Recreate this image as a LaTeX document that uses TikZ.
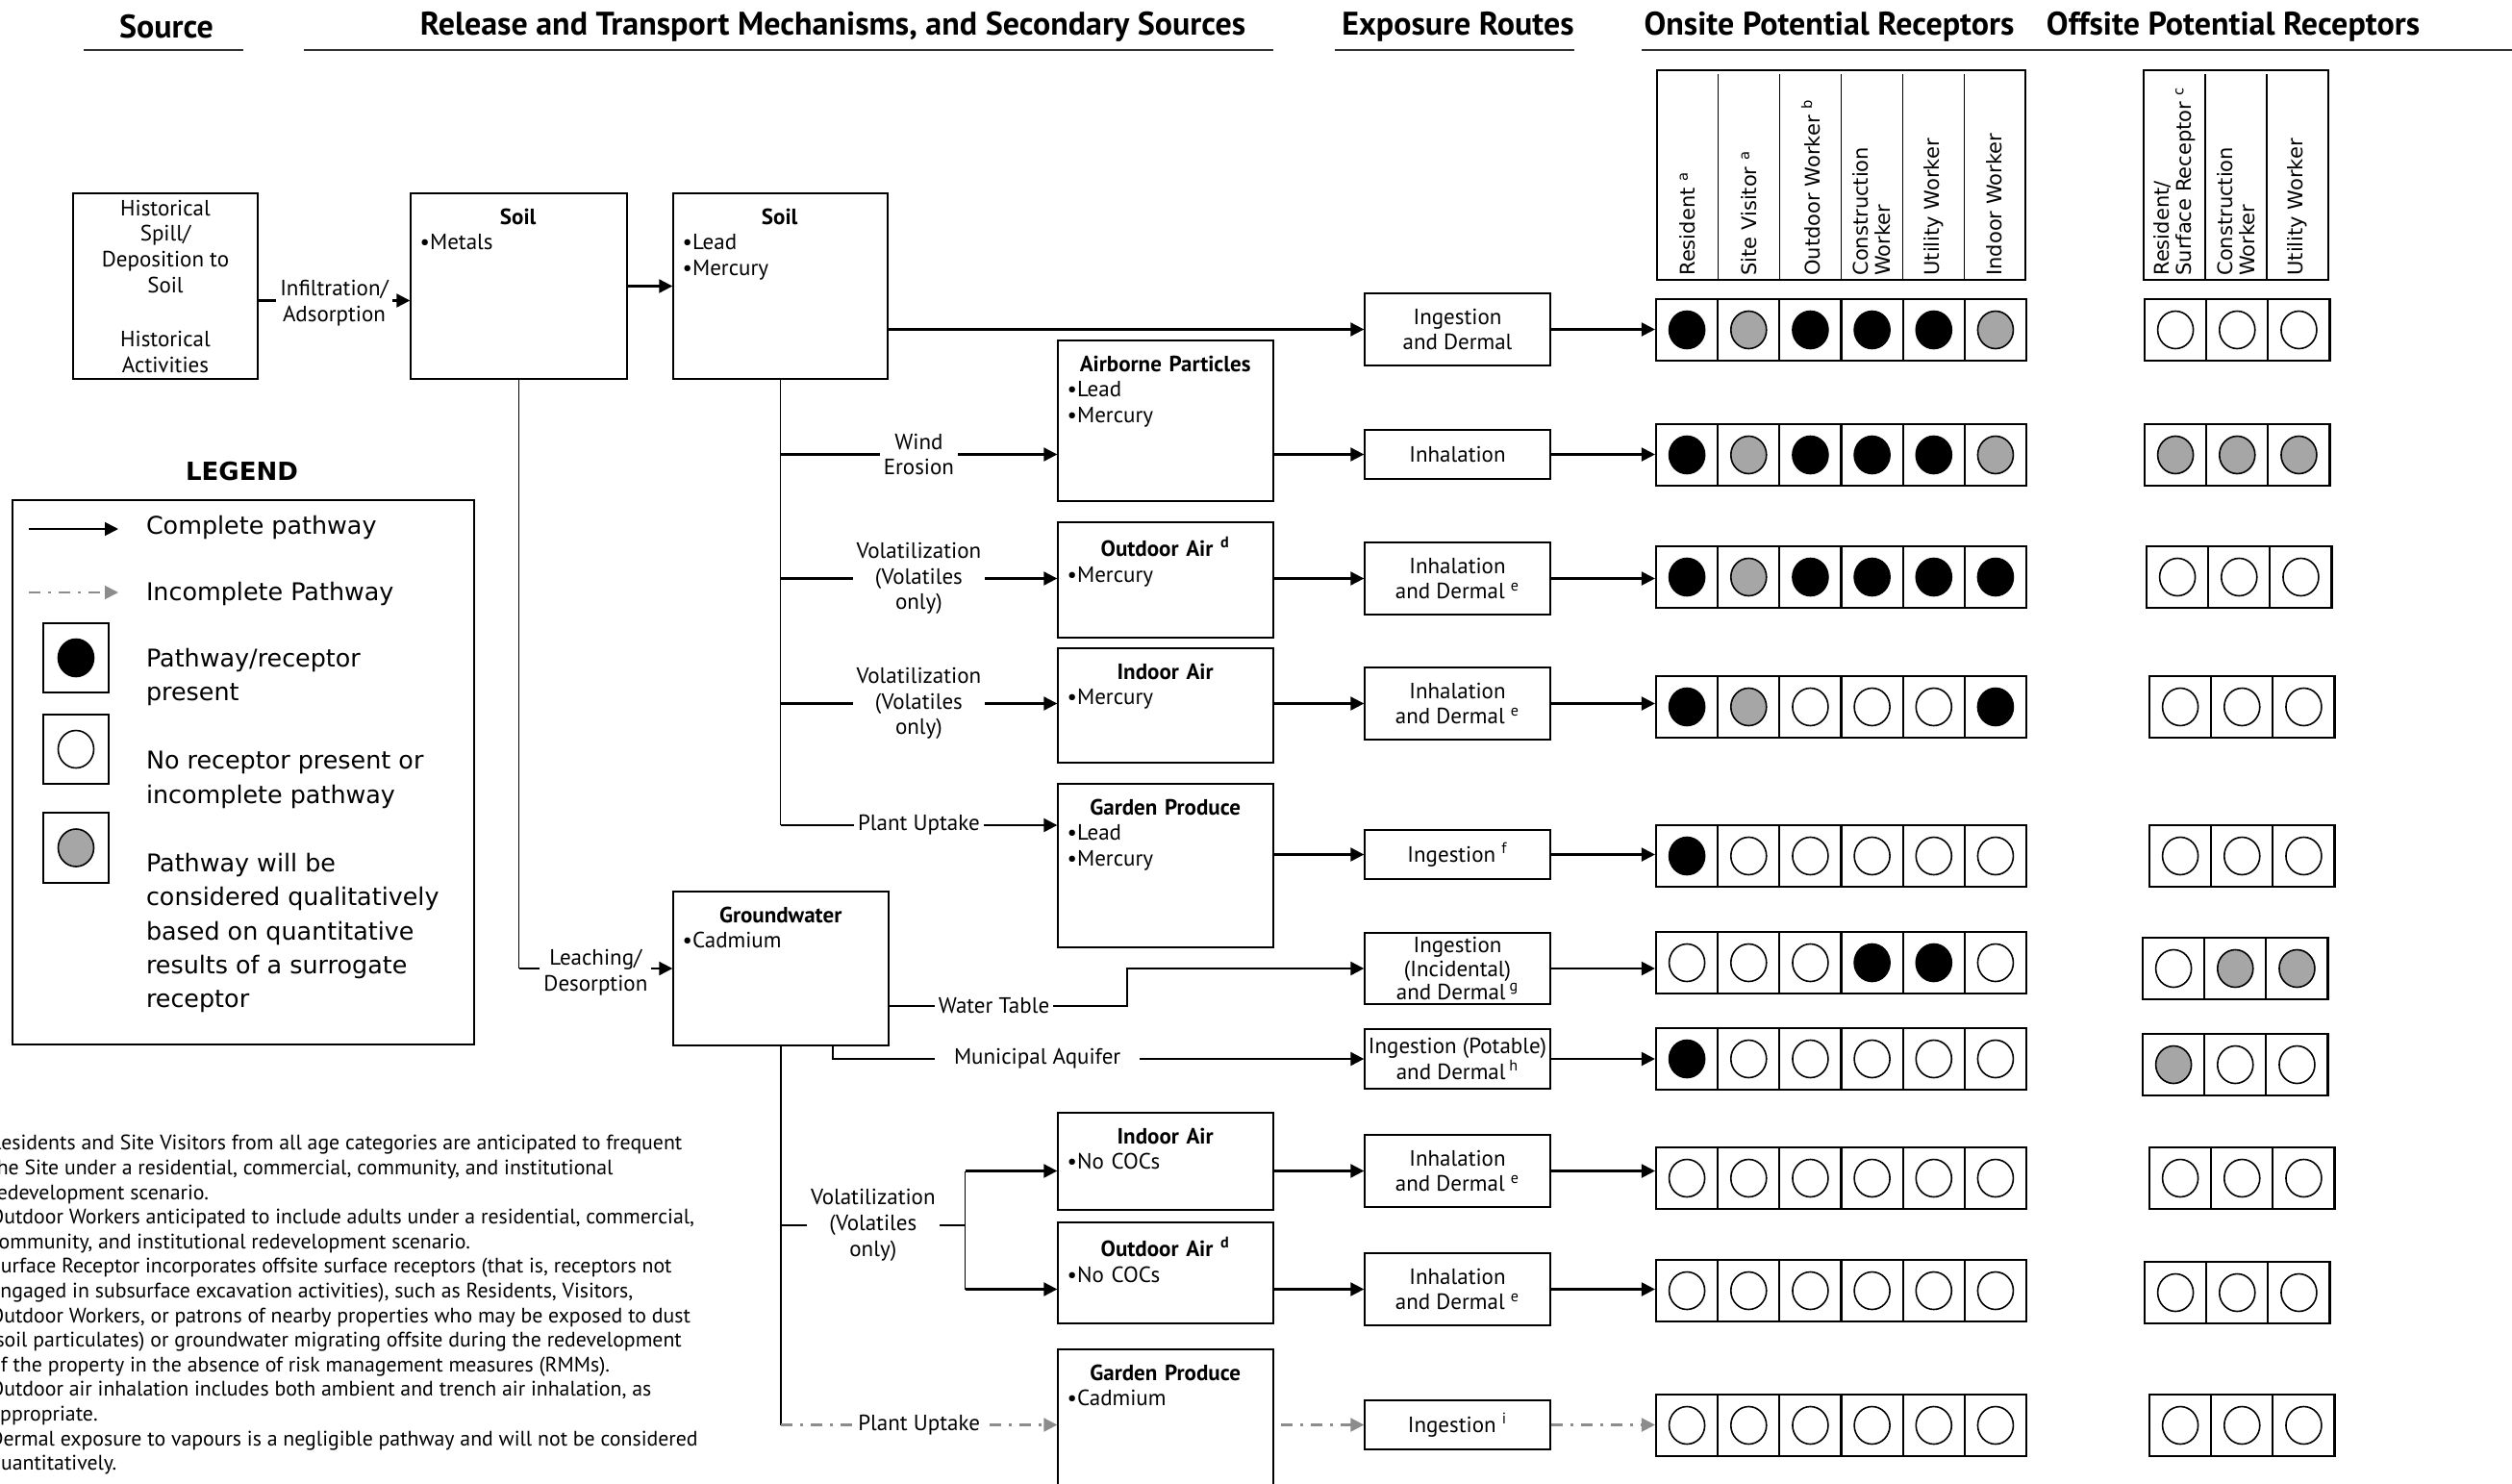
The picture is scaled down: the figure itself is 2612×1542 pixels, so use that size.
\documentclass[tikz,border=0pt]{standalone}
\usepackage{fontspec}
\setmainfont{PT Sans}
\newfontfamily\legendfont{DejaVu Sans}
\usetikzlibrary{arrows.meta,positioning,fit,calc,shapes.geometric}

\definecolor{qualgrey}{HTML}{A6A6A6}
\definecolor{incgrey}{HTML}{8C8C8C}

\newcommand{\boxfont}{\fontsize{11.5}{13.4}\selectfont}
\newcommand{\legfont}{\legendfont\fontsize{12.7}{17.7}\selectfont}
\newcommand{\boxhead}[1]{{\centering\bfseries #1\par}}

\tikzset{
	medium/.style={draw, line width=0.7pt, inner sep=0pt},
	exptext/.style={inner sep=0pt, align=center, font=\boxfont},
	inbox/.style={inner sep=0pt, align=left, anchor=north west, font=\boxfont},
	heading/.style={inner sep=0pt, font=\fontsize{17}{19}\selectfont\bfseries},
	rule/.style={line width=0.8pt, black!80},
	pathway/.style={-{Triangle[length=7pt,width=7pt]}, line width=1.1pt},
	incpath/.style={-{Triangle[length=7pt,width=7pt]}, line width=1.1pt, incgrey, dash pattern=on 6pt off 4pt on 1.5pt off 4pt},
	trunk/.style={line width=0.8pt},
	lbl/.style={fill=white, inner sep=2pt, align=center, font=\boxfont},
	cellrow/.style={draw, line width=1.1pt, inner sep=0pt},
	dot/.style={ellipse, draw, line width=0.8pt, minimum width=18.5pt, minimum height=19.5pt, inner sep=0pt},
	present/.style={fill=black},
	absent/.style={fill=white},
	qual/.style={fill=qualgrey},
	rothead/.style={rotate=90, anchor=west, align=left, inner sep=0pt, font=\legendfont\fontsize{10.5}{11.5}\selectfont},
	legtext/.style={anchor=west, align=left, inner sep=0pt, font=\legfont}
}

% one row of receptor cells: name, y, onsite dots, offsite left x, offsite y, offsite dots
\newcommand{\recrow}[6]{%
	\node[cellrow, fit={(1722,#2-32) (2107,#2+32)}] (#1on) {};
	\foreach \i in {1,...,5} \draw[line width=1.1pt] (1722+\i*64.17,#2-32) -- (1722+\i*64.17,#2+32);
	\foreach \s [count=\i] in {#3} \node[dot,\s] (#1on\i) at (1722+\i*64.17-32.08,#2) {};
	\node[cellrow, fit={(#4,#5-32) (#4+192.5,#5+32)}] (#1off) {};
	\foreach \i in {1,2} \draw[line width=1.1pt] (#4+\i*64.17,#5-32) -- (#4+\i*64.17,#5+32);
	\foreach \s [count=\i] in {#6} \node[dot,\s] (#1off\i) at (#4+\i*64.17-32.08,#5) {};
}

\begin{document}
\begin{tikzpicture}[x=0.5pt, y=-0.5pt]
	\useasboundingbox (0,0) rectangle (2612,1542);
	\clip (0,0) rectangle (2612,1542);

	%%%% column headings
	\node[heading] (hsrc) at (173,28) {Source};
	\node[heading] (hrel) at (866,28) {Release and Transport Mechanisms, and Secondary Sources};
	\node[heading] (hexp) at (1516,28) {Exposure Routes};
	\node[heading] (hon) at (1902,28) {Onsite Potential Receptors};
	\node[heading] (hoff) at (2322,28) {Offsite Potential Receptors};
	\draw[rule] (87,52) -- (253,52);
	\draw[rule] (316,52) -- (1324,52);
	\draw[rule] (1388,52) -- (1637,52);
	\draw[rule] (1707,52) -- (2612,52);

	%%%% receptor headers
	\node[medium, line width=1pt, fit={(1723,73) (2106,291)}] (onhead) {};
	\foreach \i in {1,...,5} \draw[line width=0.6pt] (1723+\i*63.83,77) -- (1723+\i*63.83,291);
	\foreach \t [count=\i] in {{Resident \textsuperscript{a}},{Site Visitor \textsuperscript{a}},{Outdoor Worker \textsuperscript{b}},{Construction\\Worker},{Utility Worker},{Indoor Worker}}
		\node[rothead] (onh\i) at (1723+\i*63.83-31.9,287) {\t};
	\node[medium, line width=1pt, fit={(2229,73) (2421,291)}] (offhead) {};
	\foreach \i in {1,2} \draw[line width=0.6pt] (2229+\i*64,77) -- (2229+\i*64,291);
	\foreach \t [count=\i] in {{Resident/\\Surface Receptor \textsuperscript{c}},{Construction\\Worker},{Utility Worker}}
		\node[rothead] (offh\i) at (2229+\i*64-32,287) {\t};

	%%%% source and soil
	\node[medium, fit={(76,201) (268,394)}] (hist) {};
	\node[exptext] (histt) at (hist) {Historical\\Spill/\\Deposition to\\Soil\\[14.5pt]Historical\\Activities};
	\node[medium, fit={(427,201) (652,394)}] (soilA) {};
	\node[inbox, text width=102pt] (soilAt) at ($(soilA.north west)+(10,16)$) {\boxhead{Soil}•Metals};
	\node[medium, fit={(700,201) (923,394)}] (soilB) {};
	\node[inbox, text width=101pt] (soilBt) at ($(soilB.north west)+(10,16)$) {\boxhead{Soil}•Lead\\•Mercury};

	\draw[pathway] ($(hist.east)+(0,15)$) -- node[lbl, yshift=-1.5pt]{Infiltration/\\Adsorption} ($(soilA.west)+(0,15)$);
	\draw[pathway] (soilA.east) -- (soilB.west);

	%%%% secondary sources from soil
	\node[medium, fit={(1100,354) (1324,521)}] (air) {};
	\node[inbox, text width=102pt] (airt) at ($(air.north west)+(10,16)$) {\boxhead{Airborne Particles}•Lead\\•Mercury};
	\node[medium, fit={(1100,543) (1324,663)}] (outA) {};
	\node[inbox, text width=102pt] (outAt) at ($(outA.north west)+(10,16)$) {\boxhead{Outdoor Air \textsuperscript{d}}•Mercury};
	\node[medium, fit={(1100,674) (1324,793)}] (inA) {};
	\node[inbox, text width=102pt] (inAt) at ($(inA.north west)+(10,16)$) {\boxhead{Indoor Air}•Mercury};
	\node[medium, fit={(1100,815) (1324,985)}] (gardenA) {};
	\node[inbox, text width=102pt] (gardenAt) at ($(gardenA.north west)+(10,16)$) {\boxhead{Garden Produce}•Lead\\•Mercury};

	%%%% groundwater
	\node[medium, fit={(700,927) (924,1087)}] (gw) {};
	\node[inbox, text width=102pt] (gwt) at ($(gw.north west)+(10,16)$) {\boxhead{Groundwater}•Cadmium};
	\node[medium, fit={(1100,1157) (1324,1258)}] (inB) {};
	\node[inbox, text width=102pt] (inBt) at ($(inB.north west)+(10,16)$) {\boxhead{Indoor Air}•No COCs};
	\node[medium, fit={(1100,1271) (1324,1376)}] (outB) {};
	\node[inbox, text width=102pt] (outBt) at ($(outB.north west)+(10,16)$) {\boxhead{Outdoor Air \textsuperscript{d}}•No COCs};
	\node[medium, fit={(1100,1403) (1324,1600)}] (gardenB) {};
	\node[inbox, text width=102pt] (gardenBt) at ($(gardenB.north west)+(10,16)$) {\boxhead{Garden Produce}•Cadmium};

	%%%% exposure routes
	\node[medium, fit={(1419,305) (1612,380)}] (exp1) {};
	\node[medium, fit={(1419,447) (1612,498)}] (exp2) {};
	\node[medium, fit={(1419,564) (1612,639)}] (exp3) {};
	\node[medium, fit={(1419,694) (1612,769)}] (exp4) {};
	\node[medium, fit={(1419,863) (1612,914)}] (exp5) {};
	\node[medium, fit={(1419,970) (1612,1044)}] (exp6) {};
	\node[medium, fit={(1419,1070) (1612,1132)}] (exp7) {};
	\node[medium, fit={(1419,1180) (1612,1255)}] (exp8) {};
	\node[medium, fit={(1419,1303) (1612,1378)}] (exp9) {};
	\node[medium, fit={(1419,1456) (1612,1507)}] (exp10) {};
	\node[exptext] (exp1t) at (exp1) {Ingestion\\and Dermal};
	\node[exptext] (exp2t) at (exp2) {Inhalation};
	\node[exptext] (exp3t) at (exp3) {Inhalation\\and Dermal \textsuperscript{e}};
	\node[exptext] (exp4t) at (exp4) {Inhalation\\and Dermal \textsuperscript{e}};
	\node[exptext] (exp5t) at (exp5) {Ingestion \textsuperscript{f}};
	\node[exptext, font=\fontsize{11.5}{12.3}\selectfont] (exp6t) at (exp6) {Ingestion\\(Incidental)\\and Dermal\,\textsuperscript{g}};
	\node[exptext, font=\fontsize{11.5}{12.5}\selectfont] (exp7t) at (exp7) {Ingestion (Potable)\\and Dermal\,\textsuperscript{h}};
	\node[exptext] (exp8t) at (exp8) {Inhalation\\and Dermal \textsuperscript{e}};
	\node[exptext] (exp9t) at (exp9) {Inhalation\\and Dermal \textsuperscript{e}};
	\node[exptext] (exp10t) at (exp10) {Ingestion \textsuperscript{i}};

	%%%% soil pathways
	\coordinate (puA) at (811.5,858);
	\draw[trunk] (soilB.south) -- (puA);
	\draw[pathway] (soilB.east |- exp1) -- (exp1.west);
	\draw[pathway] (soilB.south |- exp2) -- node[lbl]{Wind\\Erosion} (air.west |- exp2);
	\draw[pathway] (soilB.south |- exp3) -- node[lbl]{Volatilization\\(Volatiles\\only)} (outA.west |- exp3);
	\draw[pathway] (soilB.south |- exp4) -- node[lbl]{Volatilization\\(Volatiles\\only)} (inA.west |- exp4);
	\draw[pathway] (puA) -- node[lbl]{Plant Uptake} (puA -| gardenA.west);
	\draw[pathway] (air.east |- exp2) -- (exp2.west);
	\draw[pathway] (outA.east |- exp3) -- (exp3.west);
	\draw[pathway] (inA.east |- exp4) -- (exp4.west);
	\draw[pathway] (gardenA.east |- exp5) -- (exp5.west);

	%%%% groundwater pathways
	\draw[trunk] (soilA.south) -- (soilA.south |- gw.west);
	\draw[pathway] (soilA.south |- gw.west) -- node[lbl, yshift=-2pt]{Leaching/\\Desorption} (gw.west);
	\coordinate (wt) at (1172,1046);
	\draw[pathway] (gw.east |- wt) -- node[lbl, pos=0.44]{Water Table} (wt) |- (exp6.west);
	\coordinate (ma) at (866,1101);
	\draw[pathway] (gw.south -| ma) -- (ma) -- node[lbl, pos=0.385, inner xsep=10pt]{Municipal Aquifer} (exp7.west);
	\coordinate (gvf) at (1003.6,1274);
	\draw[trunk] (gw.south) -- (gw.south |- exp10);
	\draw[trunk] (gw.south |- gvf) -- node[lbl]{Volatilization\\(Volatiles\\only)} (gvf);
	\draw[trunk] (gvf |- exp8) -- (gvf |- exp9);
	\draw[pathway] (gvf |- exp8) -- (inB.west |- exp8);
	\draw[pathway] (gvf |- exp9) -- (outB.west |- exp9);
	\draw[pathway] (inB.east |- exp8) -- (exp8.west);
	\draw[pathway] (outB.east |- exp9) -- (exp9.west);
	\draw[incpath] (gw.south |- exp10) -- node[lbl, text=black]{Plant Uptake} (gardenB.west |- exp10);
	\draw[incpath, shorten <=3.5pt] (gardenB.east |- exp10) -- (exp10.west);

	%%%% receptor rows
	\recrow{r1}{343}{present,qual,present,present,present,qual}{2230}{343}{absent,absent,absent}
	\recrow{r2}{473}{present,qual,present,present,present,qual}{2230}{473}{qual,qual,qual}
	\recrow{r3}{600}{present,qual,present,present,present,present}{2232}{600}{absent,absent,absent}
	\recrow{r4}{735}{present,qual,absent,absent,absent,present}{2235}{735}{absent,absent,absent}
	\recrow{r5}{890}{present,absent,absent,absent,absent,absent}{2235}{890}{absent,absent,absent}
	\recrow{r6}{1001}{absent,absent,absent,present,present,absent}{2228}{1007}{absent,qual,qual}
	\recrow{r7}{1101}{present,absent,absent,absent,absent,absent}{2228}{1107}{qual,absent,absent}
	\recrow{r8}{1225}{absent,absent,absent,absent,absent,absent}{2235}{1225}{absent,absent,absent}
	\recrow{r9}{1342}{absent,absent,absent,absent,absent,absent}{2230}{1344}{absent,absent,absent}
	\recrow{r10}{1482}{absent,absent,absent,absent,absent,absent}{2235}{1482}{absent,absent,absent}

	\foreach \n in {1,...,9}
		\draw[pathway] (exp\n.east) -- (exp\n.east -| r\n on.west);
	\draw[incpath] (exp10.east) -- (exp10.east -| r10on.west);

	%%%% legend
	\node[font=\legendfont\fontsize{13}{15}\selectfont\bfseries, inner sep=0pt] (leghead) at (251.5,490) {LEGEND};
	\node[medium, fit={(13,520) (493,1086)}] (legend) {};
	\coordinate (lga) at (30,550);
	\coordinate (lgb) at (123,550);
	\coordinate (lgc) at (30,616);
	\coordinate (lgd) at (123,616);
	\draw[pathway, line width=0.9pt] (lga) -- (lgb);
	\draw[incpath, line width=0.9pt] (lgc) -- (lgd);
	\node[medium, fit={(45,648) (113,720)}] (keyp) {};
	\node[dot, present] (keypdot) at (keyp) {};
	\node[medium, fit={(45,743) (113,815)}] (keya) {};
	\node[dot, absent] (keyadot) at (keya) {};
	\node[medium, fit={(45,845) (113,918)}] (keyq) {};
	\node[dot, qual] (keyqdot) at (keyq) {};
	\node[legtext] (lt1) at (151.6,548) {Complete pathway};
	\node[legtext] (lt2) at (151.6,617) {Incomplete Pathway};
	\node[legtext] (lt3) at (151.6,704) {Pathway/receptor\\present};
	\node[legtext] (lt4) at (151.6,811) {No receptor present or\\incomplete pathway};
	\node[legtext] (lt5) at (151.6,970) {Pathway will be\\considered qualitatively\\based on quantitative\\results of a surrogate\\receptor};

	%%%% notes
	\node[anchor=north west, inner sep=0pt, align=left, font=\fontsize{10.9}{12.8}\selectfont] (notes) at (-11,1180) {Residents and Site Visitors from all age categories are anticipated to frequent\\
the Site under a residential, commercial, community, and institutional\\
redevelopment scenario.\\
Outdoor Workers anticipated to include adults under a residential, commercial,\\
community, and institutional redevelopment scenario.\\
Surface Receptor incorporates offsite surface receptors (that is, receptors not\\
engaged in subsurface excavation activities), such as Residents, Visitors,\\
Outdoor Workers, or patrons of nearby properties who may be exposed to dust\\
(soil particulates) or groundwater migrating offsite during the redevelopment\\
of the property in the absence of risk management measures (RMMs).\\
Outdoor air inhalation includes both ambient and trench air inhalation, as\\
appropriate.\\
Dermal exposure to vapours is a negligible pathway and will not be considered\\
quantitatively.};
\end{tikzpicture}
\end{document}
